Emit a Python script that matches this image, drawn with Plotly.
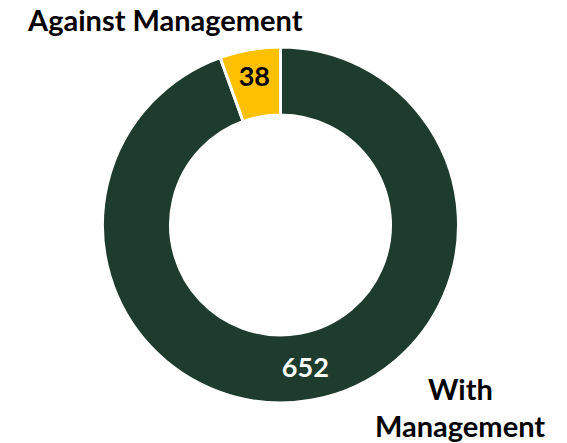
import plotly.graph_objects as go

categories = ["With Management", "Against Management"]
values = [652, 38]
colors = ["#1D3C2D", "#FFC000"]
text_colors = ["#FFFFFF", "#000000"]

W, H = 567, 443
cx, cy, r = 280.5, 225, 178

fig = go.Figure(go.Pie(
    labels=categories,
    values=values,
    hole=0.618,
    sort=False,
    direction="clockwise",
    rotation=0,
    marker=dict(colors=colors, line=dict(color="#FFFFFF", width=3)),
    textinfo="value",
    textposition="inside",
    insidetextorientation="horizontal",
    textfont=dict(family="Lato", size=27, color=text_colors, weight="bold"),
    domain=dict(x=[(cx - r) / W, (cx + r) / W], y=[(H - cy - r) / H, (H - cy + r) / H]),
    showlegend=False,
    hoverinfo="label+value",
))

font = dict(family="Lato", size=29, color="#000000", weight="bold")
fig.add_annotation(x=165 / W, y=1 - 20 / H, xref="paper", yref="paper", text="<b>Against Management</b>",
                   showarrow=False, font=font, xanchor="center", yanchor="middle")
fig.add_annotation(x=460 / W, y=1 - 388 / H, xref="paper", yref="paper", text="<b>With</b>",
                   showarrow=False, font=font, xanchor="center", yanchor="middle")
fig.add_annotation(x=460 / W, y=1 - 425 / H, xref="paper", yref="paper", text="<b>Management</b>",
                   showarrow=False, font=font, xanchor="center", yanchor="middle")

fig.update_layout(width=W, height=H, margin=dict(l=0, r=0, t=0, b=0),
                  paper_bgcolor="#FFFFFF", plot_bgcolor="#FFFFFF")
fig.write_html("out.html", config={"displayModeBar": False},
               post_script="document.body.style.margin='0px';document.body.style.overflow='hidden';")
